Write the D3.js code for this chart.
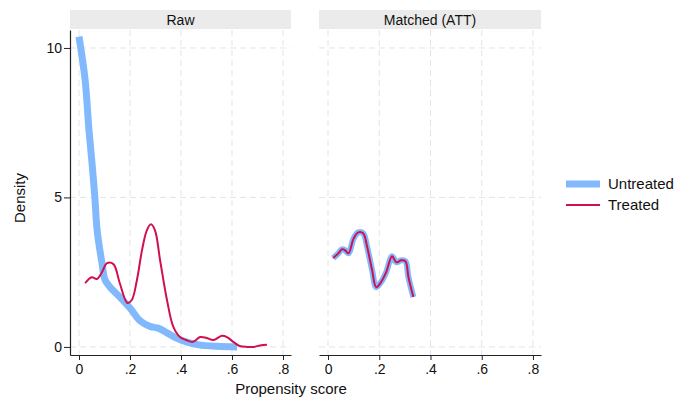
<!DOCTYPE html>
<html><head><meta charset="utf-8">
<script src="https://cdn.jsdelivr.net/npm/d3@7"></script>
<style>body{margin:0;background:#fff;font-family:"Liberation Sans",Arial,sans-serif;}</style>
</head><body><svg id="c" width="675" height="403"></svg>
<script>
// ---- data ----
const panels = ["Raw", "Matched (ATT)"];
const xTicks = [0, 0.2, 0.4, 0.6, 0.8];
const xTickLabels = ["0", ".2", ".4", ".6", ".8"];
const yTicks = [0, 5, 10];
const seriesNames = ["Untreated", "Treated"];

const rawUntreatedX = [0, 0.024, 0.039, 0.051, 0.062, 0.071, 0.09, 0.102, 0.122, 0.16, 0.2, 0.24, 0.28, 0.31, 0.345, 0.38, 0.42, 0.47, 0.54, 0.62];
const rawUntreatedY = [10.38, 8.93, 7.26, 6.15, 5.02, 3.91, 2.81, 2.24, 2.0, 1.67, 1.3, 0.87, 0.68, 0.63, 0.47, 0.3, 0.17, 0.07, 0.02, 0.0];

const rawTreatedX = [0.024, 0.05, 0.07, 0.09, 0.11, 0.135, 0.16, 0.19, 0.207, 0.227, 0.247, 0.266, 0.282, 0.298, 0.318, 0.345, 0.37, 0.396, 0.42, 0.447, 0.475, 0.5, 0.527, 0.56, 0.58, 0.605, 0.63, 0.66, 0.685, 0.71, 0.737];
const rawTreatedY = [2.13, 2.33, 2.27, 2.5, 2.8, 2.77, 2.13, 1.47, 1.57, 2.23, 3.23, 3.9, 4.1, 3.9, 2.9, 1.57, 0.67, 0.33, 0.23, 0.17, 0.33, 0.3, 0.23, 0.37, 0.33, 0.17, 0.03, 0.0, 0.0, 0.05, 0.07];

const matchedX = [0.02, 0.04, 0.055, 0.067, 0.08, 0.1, 0.118, 0.137, 0.153, 0.172, 0.188, 0.207, 0.227, 0.25, 0.267, 0.286, 0.302, 0.314, 0.333];
const matchedUntreatedY = [2.97, 3.13, 3.27, 3.23, 3.13, 3.63, 3.83, 3.8, 3.33, 2.57, 2.0, 2.17, 2.5, 3.03, 2.83, 2.9, 2.87, 2.33, 1.67];
const matchedTreatedY = [2.97, 3.13, 3.27, 3.23, 3.13, 3.63, 3.83, 3.8, 3.33, 2.57, 2.0, 2.17, 2.5, 3.03, 2.83, 2.9, 2.87, 2.33, 1.67];

// ---- drawing ----
const blue = "#82b9fd", red = "#d0104f", grid = "#e4e4e4";
const svg = d3.select("#c");
const FONT = "'Liberation Sans', Arial, sans-serif";
const y = d3.scaleLinear().domain([-0.27, 10.6]).range([355, 30]);
const panelRanges = [[70, 291], [319, 541]];
const xDomain = [-0.0353, 0.8314];

const zip = (xs, ys) => xs.map((v, i) => [v, ys[i]]);
const data = [
  [zip(rawUntreatedX, rawUntreatedY), zip(rawTreatedX, rawTreatedY)],
  [zip(matchedX, matchedUntreatedY), zip(matchedX, matchedTreatedY)]
];

panels.forEach((name, p) => {
  const [x0, x1] = panelRanges[p];
  const x = d3.scaleLinear().domain(xDomain).range([x0, x1]);
  const g = svg.append("g");
  // strip
  g.append("rect").attr("x", x0).attr("y", 10).attr("width", x1 - x0).attr("height", 19).attr("fill", "#ebebeb");
  g.append("text").attr("x", (x0 + x1) / 2).attr("y", 25).attr("text-anchor", "middle")
    .attr("font-family", FONT).attr("font-size", 14).attr("fill", "#111").text(name);
  // grid
  g.selectAll(".vg").data(xTicks).join("line")
    .attr("x1", d => x(d)).attr("x2", d => x(d)).attr("y1", 30).attr("y2", 355)
    .attr("stroke", grid).attr("stroke-width", 1).attr("stroke-dasharray", "6,4");
  g.selectAll(".hg").data(yTicks).join("line")
    .attr("x1", x0).attr("x2", x1).attr("y1", d => y(d)).attr("y2", d => y(d))
    .attr("stroke", grid).attr("stroke-width", 1).attr("stroke-dasharray", "6,4");
  // x axis
  const xa = g.append("g").attr("transform", "translate(0,355)")
    .call(d3.axisBottom(x).tickValues(xTicks).tickFormat((d, i) => xTickLabels[i]).tickSize(5).tickSizeOuter(0));
  xa.select(".domain").attr("stroke", "#222").attr("stroke-width", 1.2);
  xa.selectAll(".tick line").attr("stroke", "#222");
  xa.selectAll("text").attr("font-family", FONT).attr("font-size", 14).attr("fill", "#111").attr("y", 8).attr("dy", "0.8em");
  if (p === 0) {
    const ya = g.append("g").attr("transform", `translate(${x0},0)`)
      .call(d3.axisLeft(y).tickValues(yTicks).tickSize(6).tickSizeOuter(0));
    ya.select(".domain").attr("stroke", "#222").attr("stroke-width", 1.2);
    ya.selectAll(".tick line").attr("stroke", "#222");
    ya.selectAll("text").attr("font-family", FONT).attr("font-size", 14).attr("fill", "#111").attr("x", -8);
  }
  const line = d3.line().x(d => x(d[0])).y(d => y(d[1])).curve(d3.curveCatmullRom.alpha(0.5));
  g.append("path").attr("d", line(data[p][0])).attr("fill", "none").attr("stroke", blue)
    .attr("stroke-width", p === 0 ? 7 : 6).attr("stroke-linejoin", "round");
  g.append("path").attr("d", line(data[p][1])).attr("fill", "none").attr("stroke", red)
    .attr("stroke-width", 2).attr("stroke-linejoin", "round");
});

// axis titles
svg.append("text").attr("x", 291).attr("y", 394).attr("text-anchor", "middle")
  .attr("font-family", FONT).attr("font-size", 15).attr("fill", "#111").text("Propensity score");
svg.append("text").attr("transform", "translate(25,198) rotate(-90)").attr("text-anchor", "middle")
  .attr("font-family", FONT).attr("font-size", 15).attr("fill", "#111").text("Density");

// legend
const leg = svg.append("g");
seriesNames.forEach((s, i) => {
  const yy = 184 + i * 21;
  leg.append("line").attr("x1", 566).attr("x2", 600).attr("y1", yy).attr("y2", yy)
    .attr("stroke", i === 0 ? blue : red).attr("stroke-width", i === 0 ? 7 : 2);
  leg.append("text").attr("x", 608).attr("y", yy + 5).attr("font-family", FONT).attr("font-size", 15)
    .attr("fill", "#111").text(s);
});
</script></body></html>
